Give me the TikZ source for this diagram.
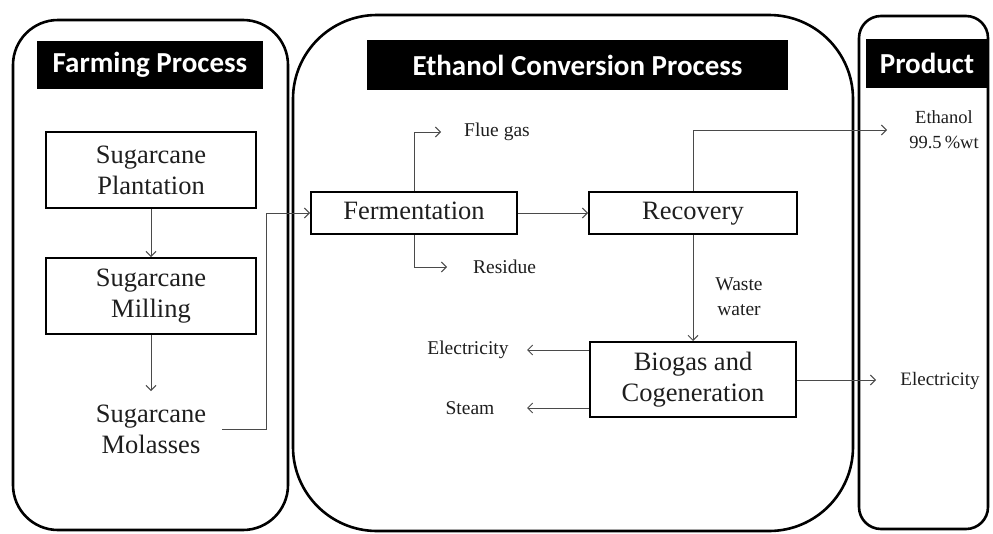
\documentclass[tikz,border=0pt]{standalone}
\usepackage{fontspec}
\setmainfont{Liberation Serif}
\newfontfamily\titlefont{Carlito}
\usetikzlibrary{arrows.meta}

\definecolor{ink}{HTML}{1E1E1E}
\definecolor{wire}{HTML}{4A4A4A}

\tikzset{
  panel/.style={draw=black, line width=2.6pt, rounded corners=#1},
  heading/.style={fill=black, text=white, inner sep=0pt,
    font=\titlefont\bfseries\fontsize{29}{32}\selectfont},
  procbox/.style={draw=black, line width=2pt, inner sep=0pt, align=center,
    text=ink, font=\fontsize{26.5}{31}\selectfont},
  oneline/.style={text height=18pt, text depth=6pt},
  plain/.style={inner sep=0pt, align=center, text=ink,
    font=\fontsize{26.5}{31}\selectfont},
  tag/.style={inner sep=0pt, align=center, text=ink,
    font=\fontsize{19.5}{25}\selectfont},
  arr/.style={draw=wire, line width=1pt,
    -{Straight Barb[length=5pt,width=10pt]}},
}

\begin{document}
\begin{tikzpicture}[x=1pt,y=-1pt]
\useasboundingbox (0,0) rectangle (993,533);

% three process panels
\draw[panel=45pt] (13,20) rectangle (288,530);
\draw[panel=84pt] (293,15) rectangle (853,531);
\draw[panel=22pt] (859,16) rectangle (988,529);

% panel headings
\node[heading, minimum width=226pt, minimum height=48pt] (hfarm) at (150,65) {Farming Process};
\node[heading, minimum width=421pt, minimum height=50pt] (hconv) at (577.5,65) {Ethanol Conversion Process};
\node[heading, minimum width=122pt, minimum height=49pt] (hprod) at (927,63.5) {Product};

% farming chain
\node[procbox, minimum width=210pt, minimum height=76pt] (plant) at (151,170) {Sugarcane\\Plantation};
\node[procbox, minimum width=210pt, minimum height=76pt] (mill) at (151,296) {Sugarcane\\Milling};
\node[plain, inner xsep=16pt, inner ysep=0pt] (mol) at (151,429) {Sugarcane\\Molasses};

% conversion chain
\node[procbox, oneline, minimum width=206pt, minimum height=42pt] (ferm) at (414,213) {Fermentation};
\node[procbox, oneline, minimum width=208pt, minimum height=42pt] (rec) at (693,213) {Recovery};
\node[procbox, minimum width=206pt, minimum height=75pt] (bio) at (693,379.5) {Biogas and\\Cogeneration};

% side streams and products
\node[tag, anchor=west] (flue) at (464,132) {Flue gas};
\node[tag, anchor=west] (res) at (473,267) {Residue};
\node[tag] (waste) at (739,297) {Waste\\water};
\node[tag] (elecin) at (468,350) {Electricity};
\node[tag] (steam) at (470,408) {Steam};
\node[tag, font=\fontsize{18.5}{25}\selectfont] (eth) at (944,130) {Ethanol\\99.5\,\%wt};
\node[tag, font=\fontsize{19}{25}\selectfont] (elecout) at (940,381) {Electricity};

% arrow tips that stop short of their labels
\coordinate (flueTip) at (441,132);
\coordinate (resTip) at (447,267);
\coordinate (elecTip) at (527,350);
\coordinate (steamTip) at (527,408);
\coordinate (ethTip) at (887,130);
\coordinate (powTip) at (876,380);

% connectors
\draw[arr] (plant) -- (mill);
\draw[arr] (mill.south) -- (151,391);
\draw[arr] (mol.east) -- ++(44,0) |- (ferm.west);
\draw[arr] (ferm) -- (rec);
\draw[arr] (ferm.north) |- (flueTip);
\draw[arr] (ferm.south) |- (resTip);
\draw[arr] (rec.north) |- (ethTip);
\draw[arr] (rec) -- (bio);
\draw[arr] (bio.west |- elecTip) -- (elecTip);
\draw[arr] (bio.west |- steamTip) -- (steamTip);
\draw[arr] (bio.east |- powTip) -- (powTip);
\end{tikzpicture}
\end{document}
